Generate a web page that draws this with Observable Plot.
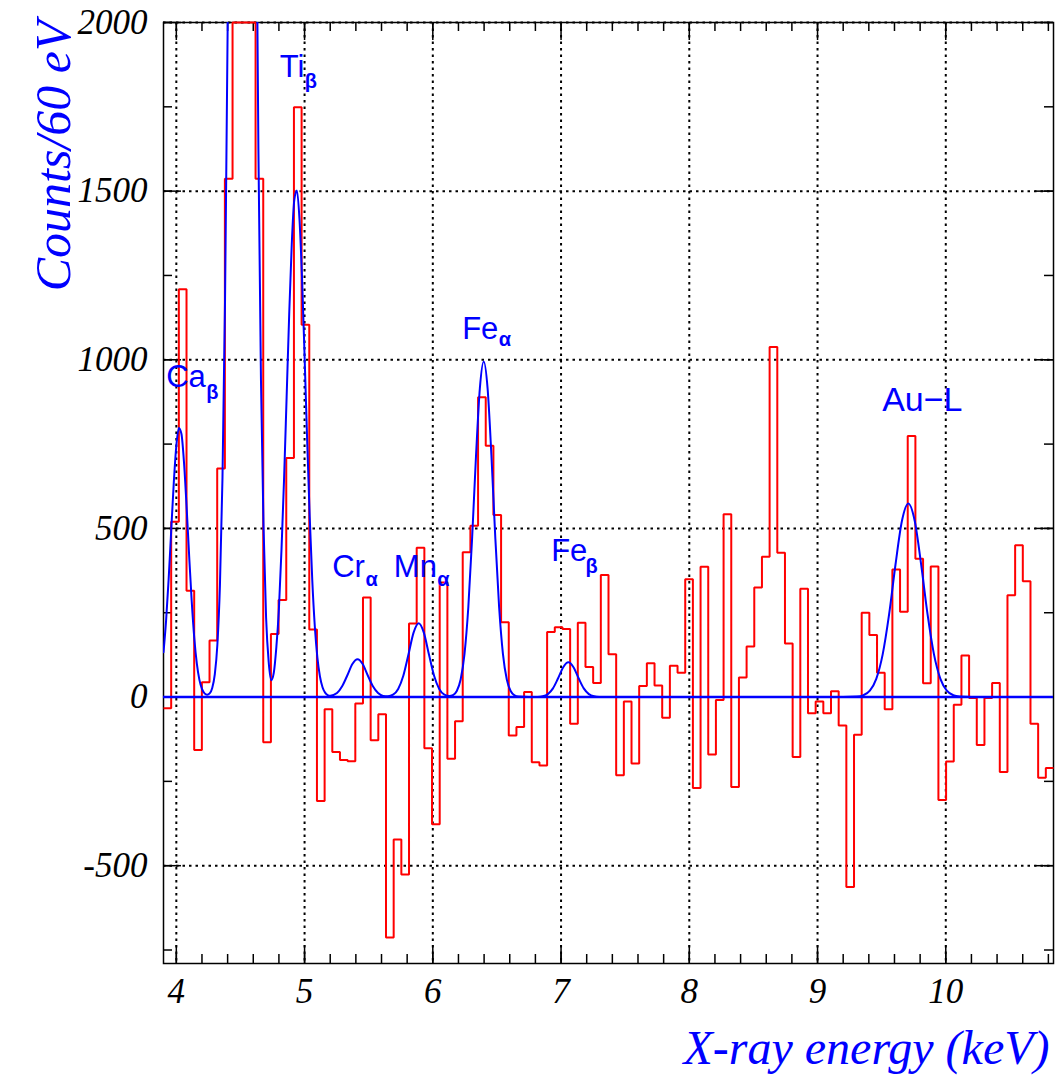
<!DOCTYPE html>
<html>
<head>
<meta charset="utf-8">
<script src="https://cdn.jsdelivr.net/npm/d3@7"></script>
<script src="https://cdn.jsdelivr.net/npm/@observablehq/plot@0.6"></script>
<style>
  html, body { margin: 0; padding: 0; background: #ffffff; }
</style>
</head>
<body>
<div id="chart"></div>
<script>
// ---------------- data ----------------
// histogram: 116 bins from 3.90 to 10.84 keV (counts per ~60 eV bin)
const binStart = 3.90;
const binEnd = 10.84;
const binCounts = [
  -33, 520, 1209, 315, -157, 44, 168, 678, 1537, 2000, 2000, 2000, 1537, -134, 187, 288, 709, 1749, 1104, 200,
  -308, -36, -163, -187, -190, -19, 295, -128, -51, -713, -422, -526, 218, 443, -152, -377, 340, -183, -72, 429,
  508, 889, 745, 540, 222, -114, -89, 15, -193, -203, 193, 207, 202, -79, 220, 89, 42, 362, 127, -232,
  -13, -197, 33, 100, 34, -61, 93, 72, 349, -270, 386, -170, -9, 542, -267, 58, 150, 325, 416, 1038,
  428, 159, -178, 321, -48, -13, -48, 17, -84, -563, -112, 250, 184, 72, -36, 378, 253, 774, 410, 41,
  387, -305, -191, -23, 123, -3, -142, -3, 42, -222, 302, 450, 343, -79, -239, -210
];

// fitted peak curve
const fitEnergy = [
  3.90, 3.92, 3.94, 3.96, 3.98, 4.00, 4.02, 4.04, 4.06, 4.08,
  4.10, 4.12, 4.14, 4.16, 4.18, 4.20, 4.22, 4.24, 4.26, 4.28,
  4.30, 4.32, 4.34, 4.36, 4.38, 4.40, 4.42, 4.44, 4.46, 4.48,
  4.50, 4.52, 4.54, 4.56, 4.58, 4.60, 4.62, 4.64, 4.66, 4.68,
  4.70, 4.72, 4.74, 4.76, 4.78, 4.80, 4.82, 4.84, 4.86, 4.88,
  4.90, 4.92, 4.94, 4.96, 4.98, 5.00, 5.02, 5.04, 5.06, 5.08,
  5.10, 5.12, 5.14, 5.16, 5.18, 5.20,
  5.253, 5.293, 5.333, 5.373, 5.413, 5.453, 5.493, 5.533, 5.573, 5.613,
  5.65, 5.69, 5.73, 5.77, 5.81, 5.85, 5.89, 5.93, 5.97, 6.01, 6.05, 6.09,
  6.13, 6.157, 6.187, 6.217, 6.247, 6.277, 6.307, 6.337, 6.367, 6.397,
  6.427, 6.457, 6.487, 6.517, 6.547, 6.577, 6.607, 6.637, 6.667,
  6.75, 6.817, 6.857, 6.897, 6.937, 6.977, 7.017, 7.057, 7.097, 7.137, 7.177, 7.217, 7.257, 7.297, 7.40,
  9.20, 9.308, 9.358, 9.408, 9.458, 9.508, 9.558, 9.608, 9.658, 9.708,
  9.758, 9.808, 9.858, 9.908, 9.958, 10.008, 10.058, 10.108, 10.20, 10.84
];
const fitCounts = [
  133, 226, 349, 493, 634, 745, 798, 780, 695, 565,
  419, 284, 175, 99, 51, 24, 11, 7, 11, 27,
  67, 155, 331, 651, 1182, 1976, 3046, 4327, 5664, 6834,
  7599, 7788, 7355, 6401, 5136, 3797, 2587, 1625, 941, 505,
  235, 105, 50, 72, 148, 262, 436, 645, 888, 1133,
  1342, 1474, 1502, 1419, 1245, 1012, 764, 535, 347, 209,
  117, 61, 29, 13, 6, 4,
  12, 32, 64, 98, 112, 98, 64, 32, 12, 3.5,
  2.4, 7, 24, 63, 126, 191, 219, 191, 126, 63, 24, 7,
  3, 5.7, 18, 52, 127.5, 267, 475, 716, 916, 995,
  916, 716, 475, 267, 127.5, 52, 18, 5, 1.3,
  0, 0.4, 2.2, 8.7, 25.7, 55.6, 88.3, 103, 88.3, 55.6, 25.7, 8.7, 2.2, 0.4, 0,
  0, 1.4, 5.6, 19, 54, 126.5, 245, 393, 522, 574,
  522, 393, 245, 126.5, 54, 19, 5.6, 1.4, 0, 0
];

// axes
const xTicksMajor = [4, 5, 6, 7, 8, 9, 10];
const xTickLabels = ["4", "5", "6", "7", "8", "9", "10"];
const xTicksMinor = [4.0, 4.2, 4.4, 4.6, 4.8, 5.0, 5.2, 5.4, 5.6, 5.8, 6.0, 6.2, 6.4, 6.6, 6.8,
  7.0, 7.2, 7.4, 7.6, 7.8, 8.0, 8.2, 8.4, 8.6, 8.8, 9.0, 9.2, 9.4, 9.6, 9.8, 10.0, 10.2, 10.4, 10.6, 10.8];
const yTicksMajor = [-500, 0, 500, 1000, 1500, 2000];
const yTickLabels = ["-500", "0", "500", "1000", "1500", "2000"];
const yTicksMinor = [-750, -500, -250, 0, 250, 500, 750, 1000, 1250, 1500, 1750, 2000];
const xTitle = "X-ray energy (keV)";
const yTitle = "Counts/60 eV";

// peak annotations (data coordinates: keV, counts)
const peakNames = ["Ca", "Ti", "Cr", "Mn", "Fe", "Fe", "Au−L"];
const peakNameE = [3.921, 4.807, 5.215, 5.696, 6.229, 6.923, 9.504];
const peakNameC = [950, 1867, 385, 385, 1091, 433, 879];
const peakSubs = ["β", "β", "α", "α", "α", "β"];
const peakSubE = [4.233, 5.002, 5.475, 6.034, 6.515, 7.191];
const peakSubC = [902, 1825, 348, 348, 1061, 388];

// ---------------- chart ----------------
const W = 1062, H = 1091;
const mL = 163, mR = 9, mT = 22, mB = 128;
const fw = W - mL - mR, fh = H - mT - mB;

const binWidth = (binEnd - binStart) / binCounts.length;
const histo = binCounts.map((c, i) => ({e: binStart + i * binWidth, c}));
histo.push({e: binEnd, c: binCounts[binCounts.length - 1]});
const fit = fitEnergy.map((e, i) => ({e, c: fitCounts[i]}));
const names = peakNames.map((n, i) => ({n, e: peakNameE[i], c: peakNameC[i]}));
const subs = peakSubs.map((n, i) => ({n, e: peakSubE[i], c: peakSubC[i]}));

const serif = "'Liberation Serif', 'Times New Roman', Times, serif";
const sans = "'Liberation Sans', Arial, Helvetica, sans-serif";
const blue = "#0000ff";
const red = "#ff0000";

const chart = Plot.plot({
  width: W,
  height: H,
  marginLeft: mL,
  marginRight: mR,
  marginTop: mT,
  marginBottom: mB,
  x: {domain: [binStart, binEnd], axis: null},
  y: {domain: [-790, 2000], axis: null},
  marks: [
    // dotted grid
    Plot.ruleX(xTicksMajor, {x: d => d, stroke: "black", strokeWidth: 2, strokeDasharray: "2.5,4"}),
    Plot.ruleY(yTicksMajor, {y: d => d, stroke: "black", strokeWidth: 2, strokeDasharray: "2.5,4"}),
    // inward ticks, all four sides
    Plot.tickX(xTicksMinor, {x: d => d, insetTop: fh - 9, stroke: "black", strokeWidth: 1.5}),
    Plot.tickX(xTicksMinor, {x: d => d, insetBottom: fh - 9, stroke: "black", strokeWidth: 1.5}),
    Plot.tickX(xTicksMajor, {x: d => d, insetTop: fh - 18, stroke: "black", strokeWidth: 1.5}),
    Plot.tickX(xTicksMajor, {x: d => d, insetBottom: fh - 18, stroke: "black", strokeWidth: 1.5}),
    Plot.tickY(yTicksMinor, {y: d => d, insetRight: fw - 9, stroke: "black", strokeWidth: 1.5}),
    Plot.tickY(yTicksMinor, {y: d => d, insetLeft: fw - 9, stroke: "black", strokeWidth: 1.5}),
    Plot.tickY(yTicksMajor, {y: d => d, insetRight: fw - 18, stroke: "black", strokeWidth: 1.5}),
    Plot.tickY(yTicksMajor, {y: d => d, insetLeft: fw - 18, stroke: "black", strokeWidth: 1.5}),
    Plot.frame({stroke: "black", strokeWidth: 1.5}),
    // histogram
    Plot.line(histo, {x: "e", y: "c", curve: "step-after", stroke: red, strokeWidth: 2,
      strokeLinejoin: "miter", strokeLinecap: "butt"}),
    // zero line and fit
    Plot.ruleY([0], {stroke: blue, strokeWidth: 2.5}),
    Plot.line(fit, {x: "e", y: "c", curve: "monotone-x", stroke: blue, strokeWidth: 2, clip: true}),
    // tick labels
    Plot.text(xTicksMajor, {x: d => d, text: (d, i) => xTickLabels[i], frameAnchor: "bottom",
      lineAnchor: "top", dy: 15, fontSize: 35, fontStyle: "italic", fontFamily: serif, fill: "black"}),
    Plot.text(yTicksMajor, {y: d => d, text: (d, i) => yTickLabels[i], frameAnchor: "left",
      textAnchor: "end", dx: -16, fontSize: 35, fontStyle: "italic", fontFamily: serif, fill: "black"}),
    // axis titles
    Plot.text([yTitle], {text: d => d, frameAnchor: "top-left", rotate: -90, textAnchor: "end",
      dx: -129, dy: -2, fontSize: 50, fontStyle: "italic", fontFamily: serif, fill: blue}),
    Plot.text([xTitle], {text: d => d, frameAnchor: "bottom-right", textAnchor: "end",
      dx: -4, dy: 100, fontSize: 48, fontStyle: "italic", fontFamily: serif, fill: blue}),
    // peak labels
    Plot.text(names.slice(0, 6), {x: "e", y: "c", text: "n", textAnchor: "start", fontSize: 31,
      fontFamily: sans, fill: blue}),
    Plot.text(names.slice(6), {x: "e", y: "c", text: "n", textAnchor: "start", fontSize: 34,
      fontFamily: sans, fill: blue}),
    Plot.text(subs, {x: "e", y: "c", text: "n", textAnchor: "start", fontSize: 20, fontWeight: "bold",
      fontFamily: sans, fill: blue})
  ]
});

document.getElementById("chart").appendChild(chart);
</script>
</body>
</html>
